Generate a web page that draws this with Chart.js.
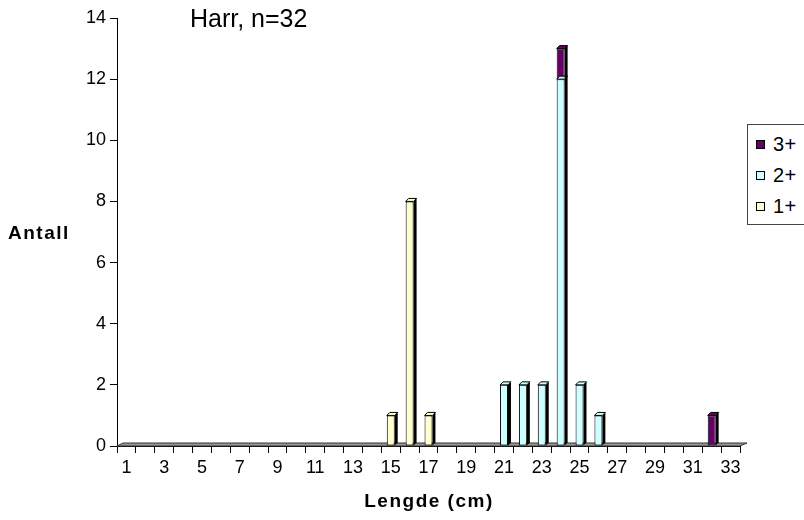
<!DOCTYPE html>
<html>
<head>
<meta charset="utf-8">
<script src="https://cdn.jsdelivr.net/npm/chart.js@4.4.1/dist/chart.umd.min.js"></script>
<style>
  body { margin: 0; background: #fff; }
  #wrap { position: relative; width: 804px; height: 520px; overflow: hidden; font-family: "Liberation Sans", Arial, sans-serif; }
  #graf { position: absolute; left: 0; top: 0; }
  .txt { position: absolute; color: #000; white-space: nowrap; }
  #tittel { left: 190px; top: 3px; font-size: 25px; line-height: 30px; }
  #ytittel { left: 8px; top: 222px; font-size: 19px; font-weight: bold; letter-spacing: 1.5px; line-height: 22px; }
  #xtittel { left: 0; width: 858px; top: 490px; text-align: center; font-size: 19px; font-weight: bold; letter-spacing: 1.5px; line-height: 22px; }
  #legende { position: absolute; left: 747px; top: 124px; width: 70px; height: 101px; border: 1px solid #444; background: #fff; padding-top: 4px; box-sizing: border-box; }
  .post { height: 31px; display: flex; align-items: center; font-size: 20px; letter-spacing: 0.5px; }
  .post span.rute { width: 7px; height: 7px; border: 1px solid #000; margin-left: 8px; margin-right: 8px; }
</style>
</head>
<body>
<div id="wrap">
  <canvas id="graf" width="804" height="520"></canvas>
  <div class="txt" id="tittel">Harr, n=32</div>
  <div class="txt" id="ytittel">Antall</div>
  <div class="txt" id="xtittel">Lengde (cm)</div>
  <div id="legende"></div>
</div>
<script>
// Lengdeklasser (cm)
const lengder = ['1','2','3','4','5','6','7','8','9','10','11','12','13','14','15','16','17',
                 '18','19','20','21','22','23','24','25','26','27','28','29','30','31','32','33'];

// Antall fisk per aldersgruppe
const alder1 = [0,0,0,0,0,0,0,0,0,0,0,0,0,0,1,8,1,0,0,0,0,0,0,0,0,0,0,0,0,0,0,0,0];
const alder2 = [0,0,0,0,0,0,0,0,0,0,0,0,0,0,0,0,0,0,0,0,2,2,2,12,2,1,0,0,0,0,0,0,0];
const alder3 = [0,0,0,0,0,0,0,0,0,0,0,0,0,0,0,0,0,0,0,0,0,0,0,1,0,0,0,0,0,0,0,1,0];

const grupper = ['1+', '2+', '3+'];
const farger = ['#FFFFCC', '#CCFFFF', '#660066'];

const dybde = 3;

// gulv under søylene
const gulv = {
    id: 'gulv',
    beforeDatasetsDraw(chart) {
        const { ctx, chartArea: a } = chart;
        ctx.save();
        ctx.beginPath();
        ctx.moveTo(a.left, a.bottom);
        ctx.lineTo(a.left + dybde + 3, a.bottom - dybde);
        ctx.lineTo(a.right + dybde + 4, a.bottom - dybde);
        ctx.lineTo(a.right, a.bottom);
        ctx.closePath();
        ctx.fillStyle = '#999999';
        ctx.fill();
        ctx.strokeStyle = '#333';
        ctx.lineWidth = 1;
        ctx.stroke();
        ctx.restore();
    }
};

// side og topp på søylene for 3D-effekt
const sokle3d = {
    id: 'sokle3d',
    afterDatasetsDraw(chart) {
        const ctx = chart.ctx;
        ctx.save();
        ctx.lineWidth = 1;
        chart.data.datasets.forEach((ds, di) => {
            const meta = chart.getDatasetMeta(di);
            meta.data.forEach((bar, i) => {
                if (!ds.data[i]) return;
                const { x, y, base, width } = bar.getProps(['x', 'y', 'base', 'width'], true);
                const v = x - width / 2, h = x + width / 2;
                // høyre side
                ctx.beginPath();
                ctx.moveTo(h, y);
                ctx.lineTo(h + dybde, y - dybde);
                ctx.lineTo(h + dybde, base - dybde);
                ctx.lineTo(h, base);
                ctx.closePath();
                ctx.fillStyle = '#000';
                ctx.fill();
                // topp
                ctx.beginPath();
                ctx.moveTo(v, y);
                ctx.lineTo(v + dybde, y - dybde);
                ctx.lineTo(h + dybde, y - dybde);
                ctx.lineTo(h, y);
                ctx.closePath();
                ctx.fillStyle = ds.backgroundColor;
                ctx.fill();
                ctx.strokeStyle = '#000';
                ctx.stroke();
            });
        });
        ctx.restore();
    }
};

const datasett = [alder1, alder2, alder3].map((d, i) => ({
    label: grupper[i],
    data: d,
    backgroundColor: farger[i],
    borderColor: '#000',
    borderWidth: 1,
    borderSkipped: false,
    barPercentage: 0.42,
    categoryPercentage: 1
}));

new Chart(document.getElementById('graf'), {
    type: 'bar',
    data: { labels: lengder, datasets: datasett },
    options: {
        responsive: false,
        animation: false,
        layout: { padding: { left: 0, right: 64, top: 18, bottom: 0 } },
        plugins: { legend: { display: false }, tooltip: { enabled: false } },
        scales: {
            x: {
                stacked: true,
                border: { color: '#000', width: 1 },
                grid: { drawOnChartArea: false, tickLength: 7, color: '#000', offset: true },
                ticks: {
                    color: '#000',
                    font: { family: 'Liberation Sans', size: 18 },
                    autoSkip: false,
                    maxRotation: 0,
                    padding: 4,
                    callback: (val, i) => (i % 2 === 0 ? lengder[i] : '')
                },
                afterFit: (s) => { s.height = 74; }
            },
            y: {
                stacked: true,
                min: 0,
                max: 14,
                border: { color: '#000', width: 1 },
                grid: { drawOnChartArea: false, tickLength: 7, color: '#000' },
                ticks: {
                    stepSize: 2,
                    color: '#000',
                    font: { family: 'Liberation Sans', size: 18 },
                    padding: 4
                },
                afterFit: (s) => { s.width = 117; }
            }
        }
    },
    plugins: [gulv, sokle3d]
});

// forklaring, øverste gruppe først
const legende = document.getElementById('legende');
for (let i = grupper.length - 1; i >= 0; i--) {
    const p = document.createElement('div');
    p.className = 'post';
    const r = document.createElement('span');
    r.className = 'rute';
    r.style.background = farger[i];
    p.appendChild(r);
    p.appendChild(document.createTextNode(grupper[i]));
    legende.appendChild(p);
}
</script>
</body>
</html>
